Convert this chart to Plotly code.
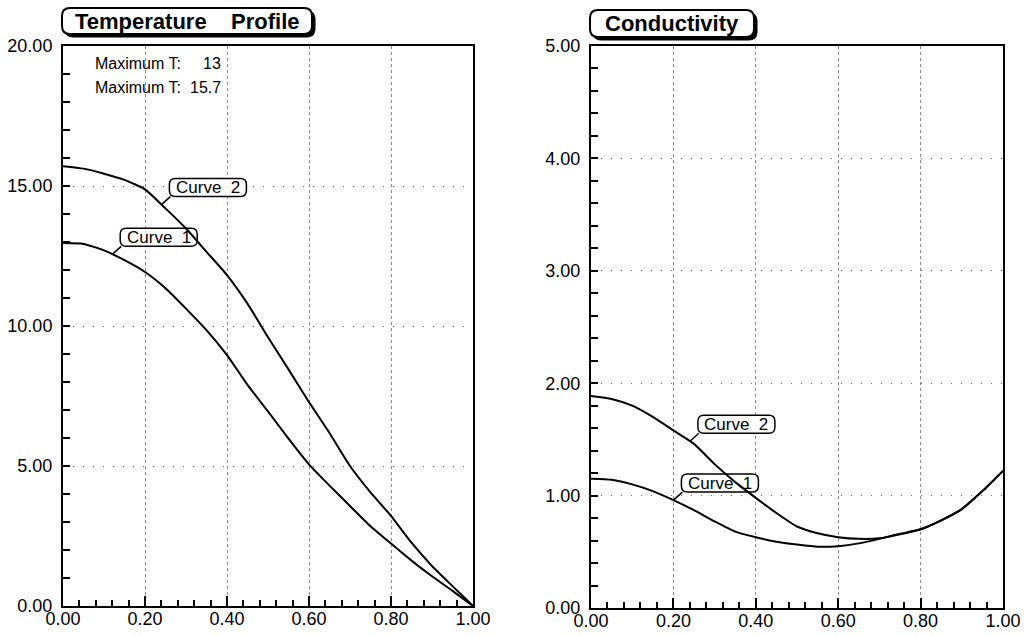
import numpy as np
import plotly.graph_objects as go

# ---------------- data ----------------
x_pos = [0.00, 0.05, 0.10, 0.15, 0.20, 0.25, 0.30, 0.35, 0.40, 0.45, 0.50,
         0.55, 0.60, 0.65, 0.70, 0.75, 0.80, 0.85, 0.90, 0.95, 1.00]

temp_curve1 = [12.96, 12.93, 12.70, 12.35, 11.93, 11.35, 10.62, 9.85, 8.96, 7.90, 6.95,
               5.98, 5.06, 4.30, 3.57, 2.85, 2.23, 1.62, 1.06, 0.54, 0.00]
temp_curve2 = [15.71, 15.62, 15.44, 15.22, 14.88, 14.20, 13.48, 12.65, 11.82, 10.80, 9.60,
               8.45, 7.28, 6.18, 5.00, 4.06, 3.22, 2.26, 1.43, 0.71, 0.00]

cond_curve1 = [1.15, 1.14, 1.10, 1.04, 0.96, 0.87, 0.77, 0.68, 0.63, 0.59, 0.565,
               0.545, 0.55, 0.575, 0.615, 0.66, 0.70, 0.78, 0.88, 1.04, 1.22]
cond_curve2 = [1.886, 1.86, 1.80, 1.70, 1.58, 1.46, 1.28, 1.12, 0.98, 0.845, 0.725,
               0.665, 0.63, 0.615, 0.62, 0.655, 0.70, 0.78, 0.88, 1.04, 1.22]

series_names = ["Curve 1", "Curve 2"]
panel_titles = ["Temperature\u00a0\u00a0\u00a0 Profile", "Conductivity"]
max_labels = ["Maximum T:", "Maximum T:"]
max_values = ["13", "15.7"]

x_ticks = [0.0, 0.2, 0.4, 0.6, 0.8, 1.0]
x_ticktext = ["0.00", "0.20", "0.40", "0.60", "0.80", "1.00"]
temp_ticks = [0, 5, 10, 15, 20]
temp_ticktext = ["0.00", "5.00", "10.00", "15.00", "20.00"]
cond_ticks = [0, 1, 2, 3, 4, 5]
cond_ticktext = ["0.00", "1.00", "2.00", "3.00", "4.00", "5.00"]

# ---------------- figure ----------------
W, H = 1024, 636
OFF = 0  # body margin removed by post_script below
FONT = "Liberation Sans, Arial, Helvetica, sans-serif"


def px(x):
    return (x - OFF) / W


def py(y):
    return 1 - (y - OFF) / H


fig = go.Figure()

line_style = dict(color="black", width=2, shape="spline", smoothing=0.5)
for name, ys in zip(series_names, [temp_curve1, temp_curve2]):
    fig.add_trace(go.Scatter(x=x_pos, y=ys, mode="lines", name=name,
                             line=line_style, xaxis="x", yaxis="y", showlegend=False))
for name, ys in zip(series_names, [cond_curve1, cond_curve2]):
    fig.add_trace(go.Scatter(x=x_pos, y=ys, mode="lines", name=name,
                             line=line_style, xaxis="x2", yaxis="y2", showlegend=False))

xdom1 = [px(63), px(473)]
xdom2 = [px(591), px(1003)]
ydom1 = [py(606), py(46)]
ydom2 = [py(608), py(46)]

tickfont = dict(family=FONT, size=18, color="black")


def xaxis_cfg(dom, anchor):
    return dict(domain=dom, anchor=anchor, range=[0, 1], tickvals=x_ticks, ticktext=x_ticktext,
                ticks="inside", ticklen=10, tickwidth=1.5, tickcolor="black",
                minor=dict(dtick=0.04, tick0=0, ticks="inside", ticklen=6, tickwidth=1.5,
                           tickcolor="black", showgrid=False),
                showline=True, linewidth=2, linecolor="black", mirror=True,
                showgrid=True, gridcolor="#8c8c8c", gridwidth=1, griddash="dot",
                zeroline=False, tickfont=tickfont, automargin=False, fixedrange=True,
                ticklabelstandoff=-5)


def yaxis_cfg(dom, anchor, rng, vals, text, minor_dt):
    return dict(domain=dom, anchor=anchor, range=rng, tickvals=vals, ticktext=text,
                ticks="inside", ticklen=7, tickwidth=1.5, tickcolor="black",
                minor=dict(dtick=minor_dt, tick0=0, ticks="inside", ticklen=7, tickwidth=1.5,
                           tickcolor="black", showgrid=False),
                showline=True, linewidth=2, linecolor="black", mirror=True,
                showgrid=True, gridcolor="#707070", gridwidth=1, griddash="1px,9px",
                zeroline=False, tickfont=tickfont, automargin=False, fixedrange=True,
                ticklabelstandoff=5)


fig.update_layout(
    width=W, height=H,
    margin=dict(l=0, r=0, t=0, b=0),
    paper_bgcolor="white", plot_bgcolor="white",
    xaxis=xaxis_cfg(xdom1, "y"),
    yaxis=yaxis_cfg(ydom1, "x", [0, 20], temp_ticks, temp_ticktext, 1),
    xaxis2=xaxis_cfg(xdom2, "y2"),
    yaxis2=yaxis_cfg(ydom2, "x2", [0, 5], cond_ticks, cond_ticktext, 0.2),
)


def rounded_path(L, R, B, T, r):
    return (f"M {L + r},{B} L {R - r},{B} Q {R},{B} {R},{B + r} L {R},{T - r} "
            f"Q {R},{T} {R - r},{T} L {L + r},{T} Q {L},{T} {L},{T - r} "
            f"L {L},{B + r} Q {L},{B} {L + r},{B} Z")


shapes = []
annotations = []

# ---- panel title boxes (rounded, with drop shadow) ----
title_boxes = [
    # anchor x (paper), L, R, top, bottom (pixels relative, y up from figure top)
    (xdom1[0], -1, 249, -8, -34),
    (xdom2[0], -1, 163, -10, -37),
]
for (ax0, L, R, T, B), title in zip(title_boxes, panel_titles):
    common = dict(type="path", xref="paper", yref="paper", xsizemode="pixel",
                  ysizemode="pixel", xanchor=ax0, yanchor=1.0, layer="above")
    shapes.append(dict(common, path=rounded_path(L + 3, R + 3, B - 3, T - 3, 8),
                       fillcolor="black", line=dict(color="black", width=1)))
    shapes.append(dict(common, path=rounded_path(L, R, B, T, 8),
                       fillcolor="white", line=dict(color="black", width=2)))
    annotations.append(dict(xref="paper", yref="paper", x=ax0, y=1.0,
                            xshift=(L + R) / 2, yshift=(T + B) / 2,
                            xanchor="center", yanchor="middle", showarrow=False,
                            text=f"<b>{title}</b>",
                            font=dict(family=FONT, size=22, color="black")))

# ---- maximum T texts ----
for i, (lab, val) in enumerate(zip(max_labels, max_values)):
    ypix = 63 + 24 * i
    annotations.append(dict(xref="paper", yref="paper", x=px(93), y=py(ypix),
                            xanchor="left", yanchor="middle", showarrow=False,
                            text=lab, font=dict(family=FONT, size=16, color="black")))
    annotations.append(dict(xref="paper", yref="paper", x=px(223), y=py(ypix),
                            xanchor="right", yanchor="middle", showarrow=False,
                            text=val, font=dict(family=FONT, size=16, color="black")))

# ---- curve labels with leaders ----
label_specs = [
    # (xref, yref, series, x position on curve, label)
    ("x", "y", temp_curve1, 0.12, series_names[0]),
    ("x", "y", temp_curve2, 0.24, series_names[1]),
    ("x2", "y2", cond_curve1, 0.20, series_names[0]),
    ("x2", "y2", cond_curve2, 0.24, series_names[1]),
]
bx_L, bx_R, bx_B, bx_T = 8, 85, 8, 26
for xr, yr, ys, xa, lab in label_specs:
    ya = float(np.interp(xa, x_pos, ys))
    common = dict(xref=xr, yref=yr, xsizemode="pixel", ysizemode="pixel",
                  xanchor=xa, yanchor=ya)
    shapes.append(dict(common, type="line", x0=0, y0=0, x1=9, y1=bx_B,
                       line=dict(color="black", width=1.5), layer="above"))
    shapes.append(dict(common, type="path", path=rounded_path(bx_L, bx_R, bx_B, bx_T, 6),
                       fillcolor="white", line=dict(color="black", width=1.5),
                       layer="between"))
    annotations.append(dict(xref=xr, yref=yr, x=xa, y=ya,
                            xshift=(bx_L + bx_R) / 2, yshift=(bx_B + bx_T) / 2,
                            xanchor="center", yanchor="middle", showarrow=False,
                            text=lab.replace(" ", "\u00a0 "),
                            font=dict(family=FONT, size=17, color="black")))

fig.update_layout(shapes=shapes, annotations=annotations)

fig.write_html("out.html", config={"displayModeBar": False},
               post_script="document.body.style.margin='0';document.body.style.overflow='hidden';")
